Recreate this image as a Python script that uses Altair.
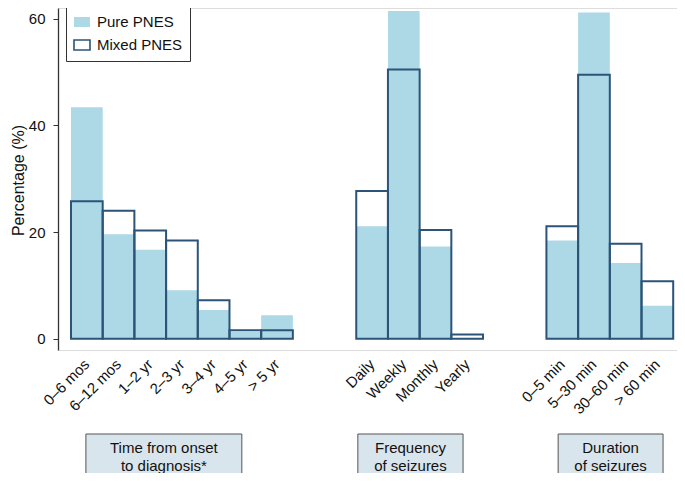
import altair as alt
import pandas as pd

FONT = "Liberation Sans"

# ---- data ----
series = ["Pure PNES", "Mixed PNES"]

time_cats = ["0–6 mos", "6–12 mos", "1–2 yr", "2–3 yr", "3–4 yr", "4–5 yr", "> 5 yr"]
time_pure = [43.4, 19.6, 16.7, 9.1, 5.4, 1.3, 4.4]
time_mixed = [25.8, 24.0, 20.3, 18.4, 7.2, 1.6, 1.6]

freq_cats = ["Daily", "Weekly", "Monthly", "Yearly"]
freq_pure = [21.1, 61.5, 17.3, 0.0]
freq_mixed = [27.7, 50.5, 20.4, 0.8]

dur_cats = ["0–5 min", "5–30 min", "30–60 min", "> 60 min"]
dur_pure = [18.4, 61.2, 14.2, 6.2]
dur_mixed = [21.1, 49.5, 17.8, 10.8]

group_titles = ["Time from onset\nto diagnosis*", "Frequency\nof seizures", "Duration\nof seizures"]

y_ticks = [0, 20, 40, 60]

# ---- layout of groups along a numeric axis (gap of two slots between groups) ----
groups = [(time_cats, time_pure, time_mixed),
          (freq_cats, freq_pure, freq_mixed),
          (dur_cats, dur_pure, dur_mixed)]
all_cats, all_pos, all_pure, all_mixed, first_pos = [], [], [], [], []
offset = 0
for cats, pure, mixed in groups:
    first_pos.append(offset)
    for i, c in enumerate(cats):
        all_cats.append(c)
        all_pos.append(offset + i)
    all_pure += pure
    all_mixed += mixed
    offset += len(cats) + 2

rows = []
for s, vals in [(series[0], all_pure), (series[1], all_mixed)]:
    for c, p, v in zip(all_cats, all_pos, vals):
        rows.append({"cat": c, "x0": p - 0.5, "x1": p + 0.5, "series": s, "value": v, "zero": 0})
bars_df = pd.DataFrame(rows)

labels_df = pd.DataFrame({"cat": all_cats, "pos": all_pos})

# annotation boxes below the axis (relative to each group's first slot)
box_rel = [(-0.03, 4.89), (-0.45, 2.87), (-0.13, 3.18)]
boxes_df = pd.DataFrame({
    "title": group_titles,
    "bx0": [f + a for f, (a, b) in zip(first_pos, box_rel)],
    "bx1": [f + b for f, (a, b) in zip(first_pos, box_rel)],
})
boxes_df["bxc"] = (boxes_df["bx0"] + boxes_df["bx1"]) / 2

x_scale = alt.Scale(domain=[-0.91, 18.62], nice=False, zero=False)
y_scale = alt.Scale(domain=[-2.12, 62.04], nice=False, zero=False)

legend = alt.Legend(
    title=None, orient="none", legendX=8, legendY=-2,
    symbolType="M-1,-0.625H1V0.625H-1Z", symbolSize=256, symbolStrokeWidth=1.6,
    labelFont=FONT, labelFontSize=15, labelColor="#111", labelOffset=6,
    labelExpr="datum.label + '    '",
    rowPadding=5, padding=7, strokeColor="#333", fillColor="white",
)

bars = alt.Chart(bars_df).mark_rect(strokeWidth=2).encode(
    x=alt.X("x0:Q", scale=x_scale,
            axis=alt.Axis(labels=False, ticks=False, grid=False, title=None,
                          domainColor="#333", domainWidth=1.3)),
    x2="x1:Q",
    y=alt.Y("value:Q", scale=y_scale,
            axis=alt.Axis(values=y_ticks, grid=False, title="Percentage (%)",
                          labelFont=FONT, labelFontSize=15, labelColor="#111",
                          labelPadding=8, tickSize=5, tickColor="#333",
                          domainColor="#333", domainWidth=1.3,
                          titleFont=FONT, titleFontSize=16, titleFontWeight="normal",
                          titleColor="#111", titleX=-40, titleY=172, titleAngle=270,
                          titleAlign="center", titleBaseline="middle")),
    y2="zero:Q",
    fill=alt.Fill("series:N", scale=alt.Scale(domain=series, range=["#add8e6", "transparent"]),
                  legend=legend),
    stroke=alt.Stroke("series:N", scale=alt.Scale(domain=series, range=["transparent", "#2b5478"]),
                      legend=legend),
)

cat_labels = alt.Chart(labels_df).mark_text(
    angle=315, align="right", baseline="middle", font=FONT, fontSize=15, color="#111"
).encode(
    x=alt.X("pos:Q", scale=x_scale, axis=None),
    y=alt.value(354),
    text="cat:N",
)

boxes = alt.Chart(boxes_df).mark_rect(fill="#d9e5ec", stroke="#555", strokeWidth=1).encode(
    x=alt.X("bx0:Q", scale=x_scale, axis=None),
    x2="bx1:Q",
    y=alt.value(426),
    y2=alt.value(480),
)

box_text = alt.Chart(boxes_df).mark_text(
    font=FONT, fontSize=15, color="#111", lineBreak="\n", lineHeight=18, baseline="middle"
).encode(
    x=alt.X("bxc:Q", scale=x_scale, axis=None),
    y=alt.value(440),
    text="title:N",
)

chart = alt.layer(bars, cat_labels, boxes, box_text).properties(
    width=619, height=342,
    autosize=alt.AutoSizeParams(type="none"),
    padding={"left": 50, "top": 0, "right": 0, "bottom": 123},
).configure_view(stroke=None).configure(font=FONT)

chart.save("out.html", embed_options={"renderer": "svg", "actions": False})
